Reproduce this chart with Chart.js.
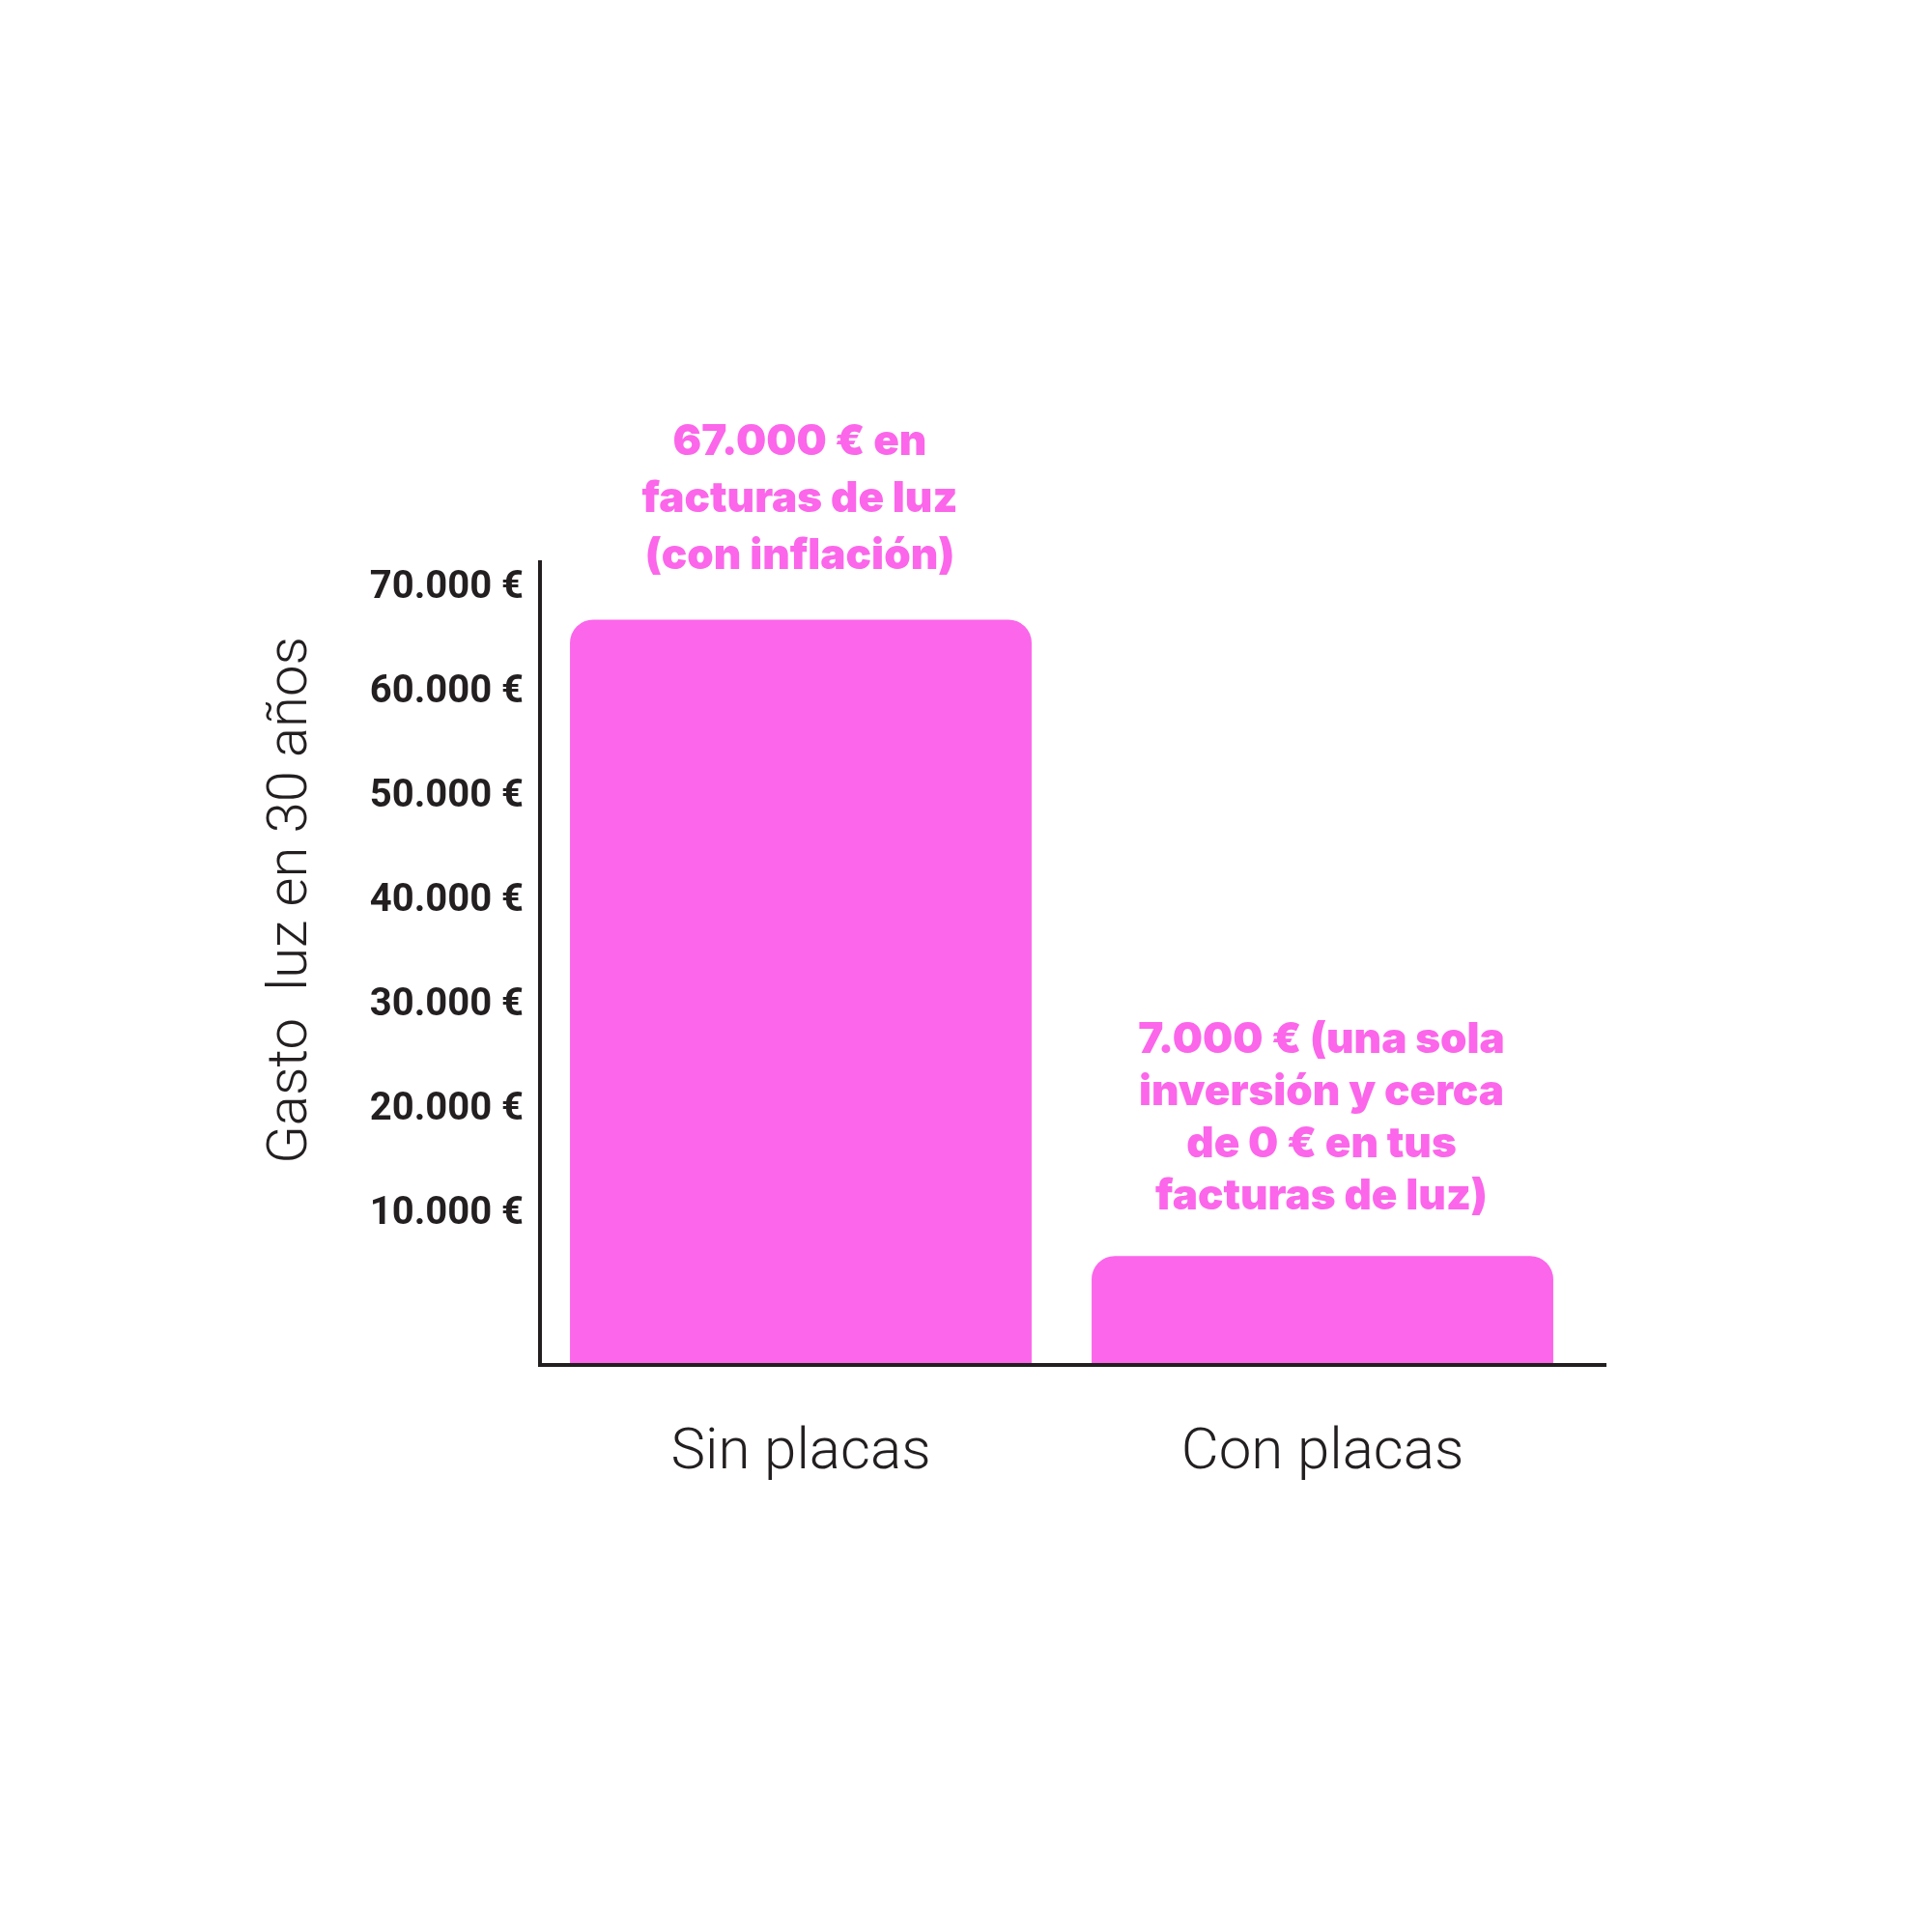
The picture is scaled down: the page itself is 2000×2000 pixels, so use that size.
<!DOCTYPE html>
<html>
<head>
<meta charset="utf-8">
<script src="https://cdn.jsdelivr.net/npm/chart.js@4.4.1/dist/chart.umd.min.js"></script>
<style>
  html, body { margin: 0; padding: 0; background: #fff; }
  #wrap { width: 2000px; height: 2000px; }
</style>
</head>
<body>
<div id="wrap"><canvas id="myChart" width="2000" height="2000"></canvas></div>
<script>
var categories = ["Sin placas", "Con placas"];
var gasto = [67000, 6000];
var yTicks = [10000, 20000, 30000, 40000, 50000, 60000, 70000];
var yMin = -4440;
var yMax = 72500;
var yTitle = "Gasto  luz en 30 años";
var notes = [
  ["67.000 € en", "facturas de luz", "(con inflación)"],
  ["7.000 € (una sola", "inversión y cerca", "de 0 € en tus", "facturas de luz)"]
];
var noteLead = [59, 54];
var noteGap = [52, 48];

var pink = "#fb66ea";
var ink = "#231f20";

function euro(v) {
  return v.toLocaleString("de-DE") + " €";
}

// notes over the bars, y title, and the x axis line on top of the bars
const extras = {
  id: "extras",
  afterDatasetsDraw(chart) {
    const ctx = chart.ctx;
    const area = chart.chartArea;
    const bars = chart.getDatasetMeta(0).data;

    ctx.save();
    ctx.fillStyle = pink;
    ctx.font = "900 44px Inter";
    ctx.textAlign = "center";
    ctx.textBaseline = "alphabetic";
    bars.forEach(function (bar, i) {
      const lines = notes[i];
      const lead = noteLead[i];
      const last = bar.y - noteGap[i];
      lines.forEach(function (t, j) {
        ctx.fillText(t, bar.x - 1, last - (lines.length - 1 - j) * lead);
      });
    });

    // x axis line, runs a bit past the last bar
    ctx.strokeStyle = ink;
    ctx.lineWidth = 4;
    ctx.beginPath();
    ctx.moveTo(area.left - 2, area.bottom);
    ctx.lineTo(area.right + 24, area.bottom);
    ctx.stroke();

    // rotated y title
    ctx.fillStyle = ink;
    ctx.font = "300 58px Roboto";
    ctx.textBaseline = "middle";
    ctx.translate(302, 932);
    ctx.rotate(-Math.PI / 2);
    ctx.fillText(yTitle, 0, 0);
    ctx.restore();
  }
};

new Chart("myChart", {
  type: "bar",
  data: {
    labels: categories,
    datasets: [{
      data: gasto,
      backgroundColor: pink,
      base: yMin,
      borderRadius: { topLeft: 24, topRight: 24, bottomLeft: 0, bottomRight: 0 },
      borderSkipped: "start",
      barPercentage: 0.885,
      categoryPercentage: 1
    }]
  },
  options: {
    responsive: false,
    animation: false,
    devicePixelRatio: 1,
    layout: { padding: { left: 250, right: 361, top: 582, bottom: 437 } },
    plugins: {
      legend: { display: false },
      tooltip: { enabled: false }
    },
    scales: {
      x: {
        grid: { display: false, drawTicks: false },
        border: { display: false },
        ticks: {
          color: ink,
          padding: 56,
          font: { family: "Roboto", size: 60, weight: 300 }
        },
        afterFit(scale) { scale.height = 150; }
      },
      y: {
        min: yMin,
        max: yMax,
        grid: { display: false, drawTicks: false },
        border: { display: true, color: ink, width: 4 },
        afterBuildTicks(scale) {
          scale.ticks = yTicks.map(function (v) { return { value: v }; });
        },
        ticks: {
          color: ink,
          padding: 17,
          font: { family: "Roboto", size: 40, weight: 700 },
          callback: function (v) { return euro(v); }
        },
        afterFit(scale) { scale.width = 309; }
      }
    }
  },
  plugins: [extras]
});
</script>
</body>
</html>
